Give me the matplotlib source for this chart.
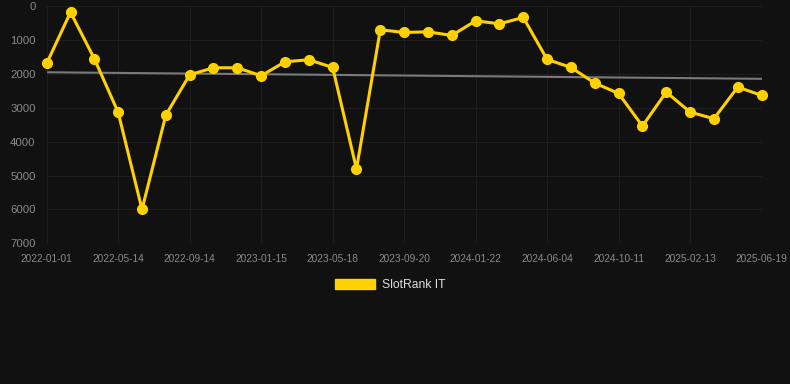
import numpy as np
import matplotlib.pyplot as plt
from matplotlib.patches import Patch

# Datos (posicion de rango, eje invertido)
rank = [1690, 180, 1553, 3136, 6000, 3215, 2025, 1819, 1819, 2055,
        1642, 1583, 1809, 4807, 698, 777, 757, 865, 433, 521,
        334, 1573, 1809, 2271, 2576, 3539, 2536, 3126, 3323, 2389, 2634]
tick_labels = ['2022-01-01', '2022-05-14', '2022-09-14', '2023-01-15',
               '2023-05-18', '2023-09-20', '2024-01-22', '2024-06-04',
               '2024-10-11', '2025-02-13', '2025-06-19']
y_ticks = [0, 1000, 2000, 3000, 4000, 5000, 6000, 7000]
series_name = 'SlotRank IT'

bg = '#111111'
clr_line = '#FFD100'
clr_trend = '#7a7a7a'
clr_text = '#8a8a8a'

x = np.arange(len(rank))
a, b = np.polyfit(x, rank, 1)  # linea de tendencia

plt.rcParams['font.family'] = ['Liberation Sans', 'DejaVu Sans']
fig = plt.figure(figsize=(7.9, 3.84), dpi=100, facecolor=bg)
ax = fig.add_axes([0.0591, 0.3664, 0.9049, 0.6176], facecolor=bg)

ax.plot(x, a*x + b, '-', color=clr_trend, linewidth=1.5, zorder=2)
ax.plot(x, rank, '-o', color=clr_line, linewidth=2.2, markersize=7,
        clip_on=False, zorder=3, label=series_name)

ax.set_xlim(0, len(rank) - 1)
ax.set_ylim(7000, 0)
ax.set_xticks(x[::3])
ax.set_xticklabels(tick_labels)
ax.set_yticks(y_ticks)
ax.grid(True, color='#1d1d1d', linewidth=0.8)
ax.tick_params(axis='x', length=0, pad=8, labelsize=7.3, labelcolor=clr_text)
ax.tick_params(axis='y', length=0, pad=8, labelsize=8.2, labelcolor=clr_text)
for s in ax.spines.values():
    s.set_visible(False)

fig.legend(handles=[Patch(color=clr_line, label=series_name)],
           loc='center', bbox_to_anchor=(0.494, 0.258), frameon=False,
           fontsize=8.7, handlelength=3.3, handleheight=0.85, handletextpad=0.55,
           labelcolor='#dddddd')

fig.savefig('out.png', dpi=100, facecolor=bg)
